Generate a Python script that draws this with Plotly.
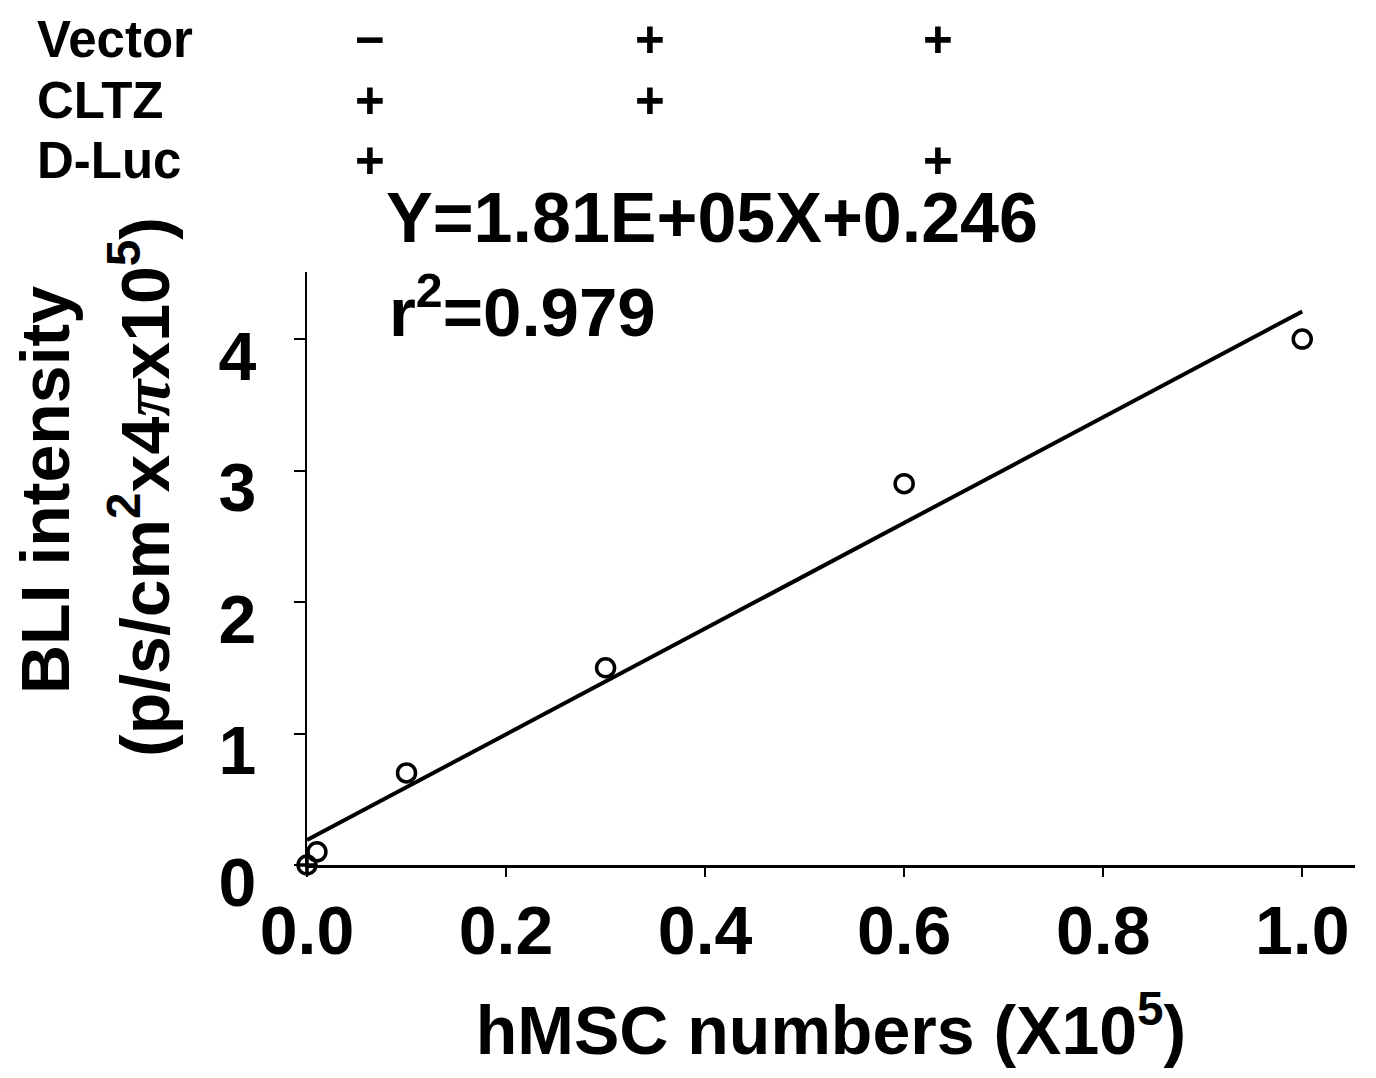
import plotly.graph_objects as go

# ---- data ----
cell_numbers = [0.0, 0.01, 0.1, 0.3, 0.6, 1.0]          # hMSC numbers (x10^5)
bli_intensity = [0.0, 0.1, 0.7, 1.5, 2.9, 4.0]           # BLI intensity
fit_x = [0.0, 1.0]
fit_y = [0.19, 4.21]
x_ticks = [0.0, 0.2, 0.4, 0.6, 0.8, 1.0]
x_tick_labels = ["0.0", "0.2", "0.4", "0.6", "0.8", "1.0"]
y_ticks = [0, 1, 2, 3, 4]
y_tick_labels = ["0", "1", "2", "3", "4"]
row_labels = ["Vector", "CLTZ", "D-Luc"]
row_signs = [["\u2212", "+", "+"], ["+", "+", ""], ["+", "", "+"]]
equation_text = "Y=1.81E+05X+0.246"
r2_text = "r<sup>2</sup>=0.979"

OFF = 8                      # default page body margin
W, H = 1376 - OFF, 1078 - OFF
# plot area in screen pixels
L, R, T, B = 307, 1355, 272, 865
FONT = "Liberation Sans"

def px(x):
    return (x - L) / (R - L)

def py(y):
    return (B - y) / (B - T)

fig = go.Figure()
fig.add_trace(go.Scatter(x=fit_x, y=fit_y, mode="lines",
                         line=dict(color="black", width=4),
                         cliponaxis=False, showlegend=False))
symbols = ["circle-cross-open"] + ["circle-open"] * (len(cell_numbers) - 1)
fig.add_trace(go.Scatter(x=cell_numbers, y=bli_intensity, mode="markers",
                         marker=dict(symbol=symbols, size=18, color="black",
                                     line=dict(color="black", width=3.5)),
                         cliponaxis=False, showlegend=False))

ann = []
col_x = [370, 650, 938]
row_y = [39, 100, 160]
for i, lab in enumerate(row_labels):
    ann.append(dict(text=lab, x=px(35), y=py(row_y[i]), xanchor="left", yanchor="middle",
                    font=dict(family=FONT, size=51, color="black", weight="bold")))
    for j, s in enumerate(row_signs[i]):
        if s:
            ann.append(dict(text=s, x=px(col_x[j]), y=py(row_y[i]), xanchor="center",
                            yanchor="middle",
                            font=dict(family=FONT, size=51, color="black", weight="bold")))
ann.append(dict(text=equation_text, x=px(384), y=py(218), xanchor="left", yanchor="middle",
                font=dict(family=FONT, size=70, color="black", weight="bold")))
ann.append(dict(text=r2_text, x=px(387), y=py(307), xanchor="left", yanchor="middle",
                font=dict(family=FONT, size=69, color="black", weight="bold")))
ann.append(dict(text="BLI intensity", x=px(45), y=py(490), textangle=-90,
                xanchor="center", yanchor="middle",
                font=dict(family=FONT, size=68, color="black", weight="bold")))
ann.append(dict(text="(p/s/cm<sup>2</sup>x4<span style=\"font-family:Liberation Serif;font-style:italic\">\u03c0</span>x10<sup>5</sup>)",
                x=px(140), y=py(487),
                textangle=-90, xanchor="center", yanchor="middle",
                font=dict(family=FONT, size=68, color="black", weight="bold")))
for a in ann:
    a.update(xref="paper", yref="paper", showarrow=False)

fig.update_layout(
    width=W, height=H,
    margin=dict(l=L - OFF, r=W - (R - OFF), t=T - OFF, b=H - (B - OFF), pad=0),
    paper_bgcolor="white", plot_bgcolor="white",
    annotations=ann,
    xaxis=dict(range=[0, 1.053], tickvals=x_ticks, ticktext=x_tick_labels,
               showgrid=False, zeroline=False, showline=True, linecolor="black",
               linewidth=3, ticks="outside", ticklen=9, tickwidth=2, tickcolor="black",
               ticklabelstandoff=-5,
               tickfont=dict(family=FONT, size=68, color="black", weight="bold"),
               title=dict(text="hMSC numbers (X10<sup>5</sup>)", standoff=40,
                          font=dict(family=FONT, size=68, color="black", weight="bold"))),
    yaxis=dict(range=[0, 4.51], tickvals=y_ticks, ticktext=y_tick_labels,
               showgrid=False, zeroline=False, showline=True, linecolor="black",
               linewidth=2, ticks="outside", ticklen=11, tickwidth=2, tickcolor="black",
               ticklabelstandoff=24, ticklabelshift=17,
               tickfont=dict(family=FONT, size=68, color="black", weight="bold")),
)

fig.write_html("out.html")
